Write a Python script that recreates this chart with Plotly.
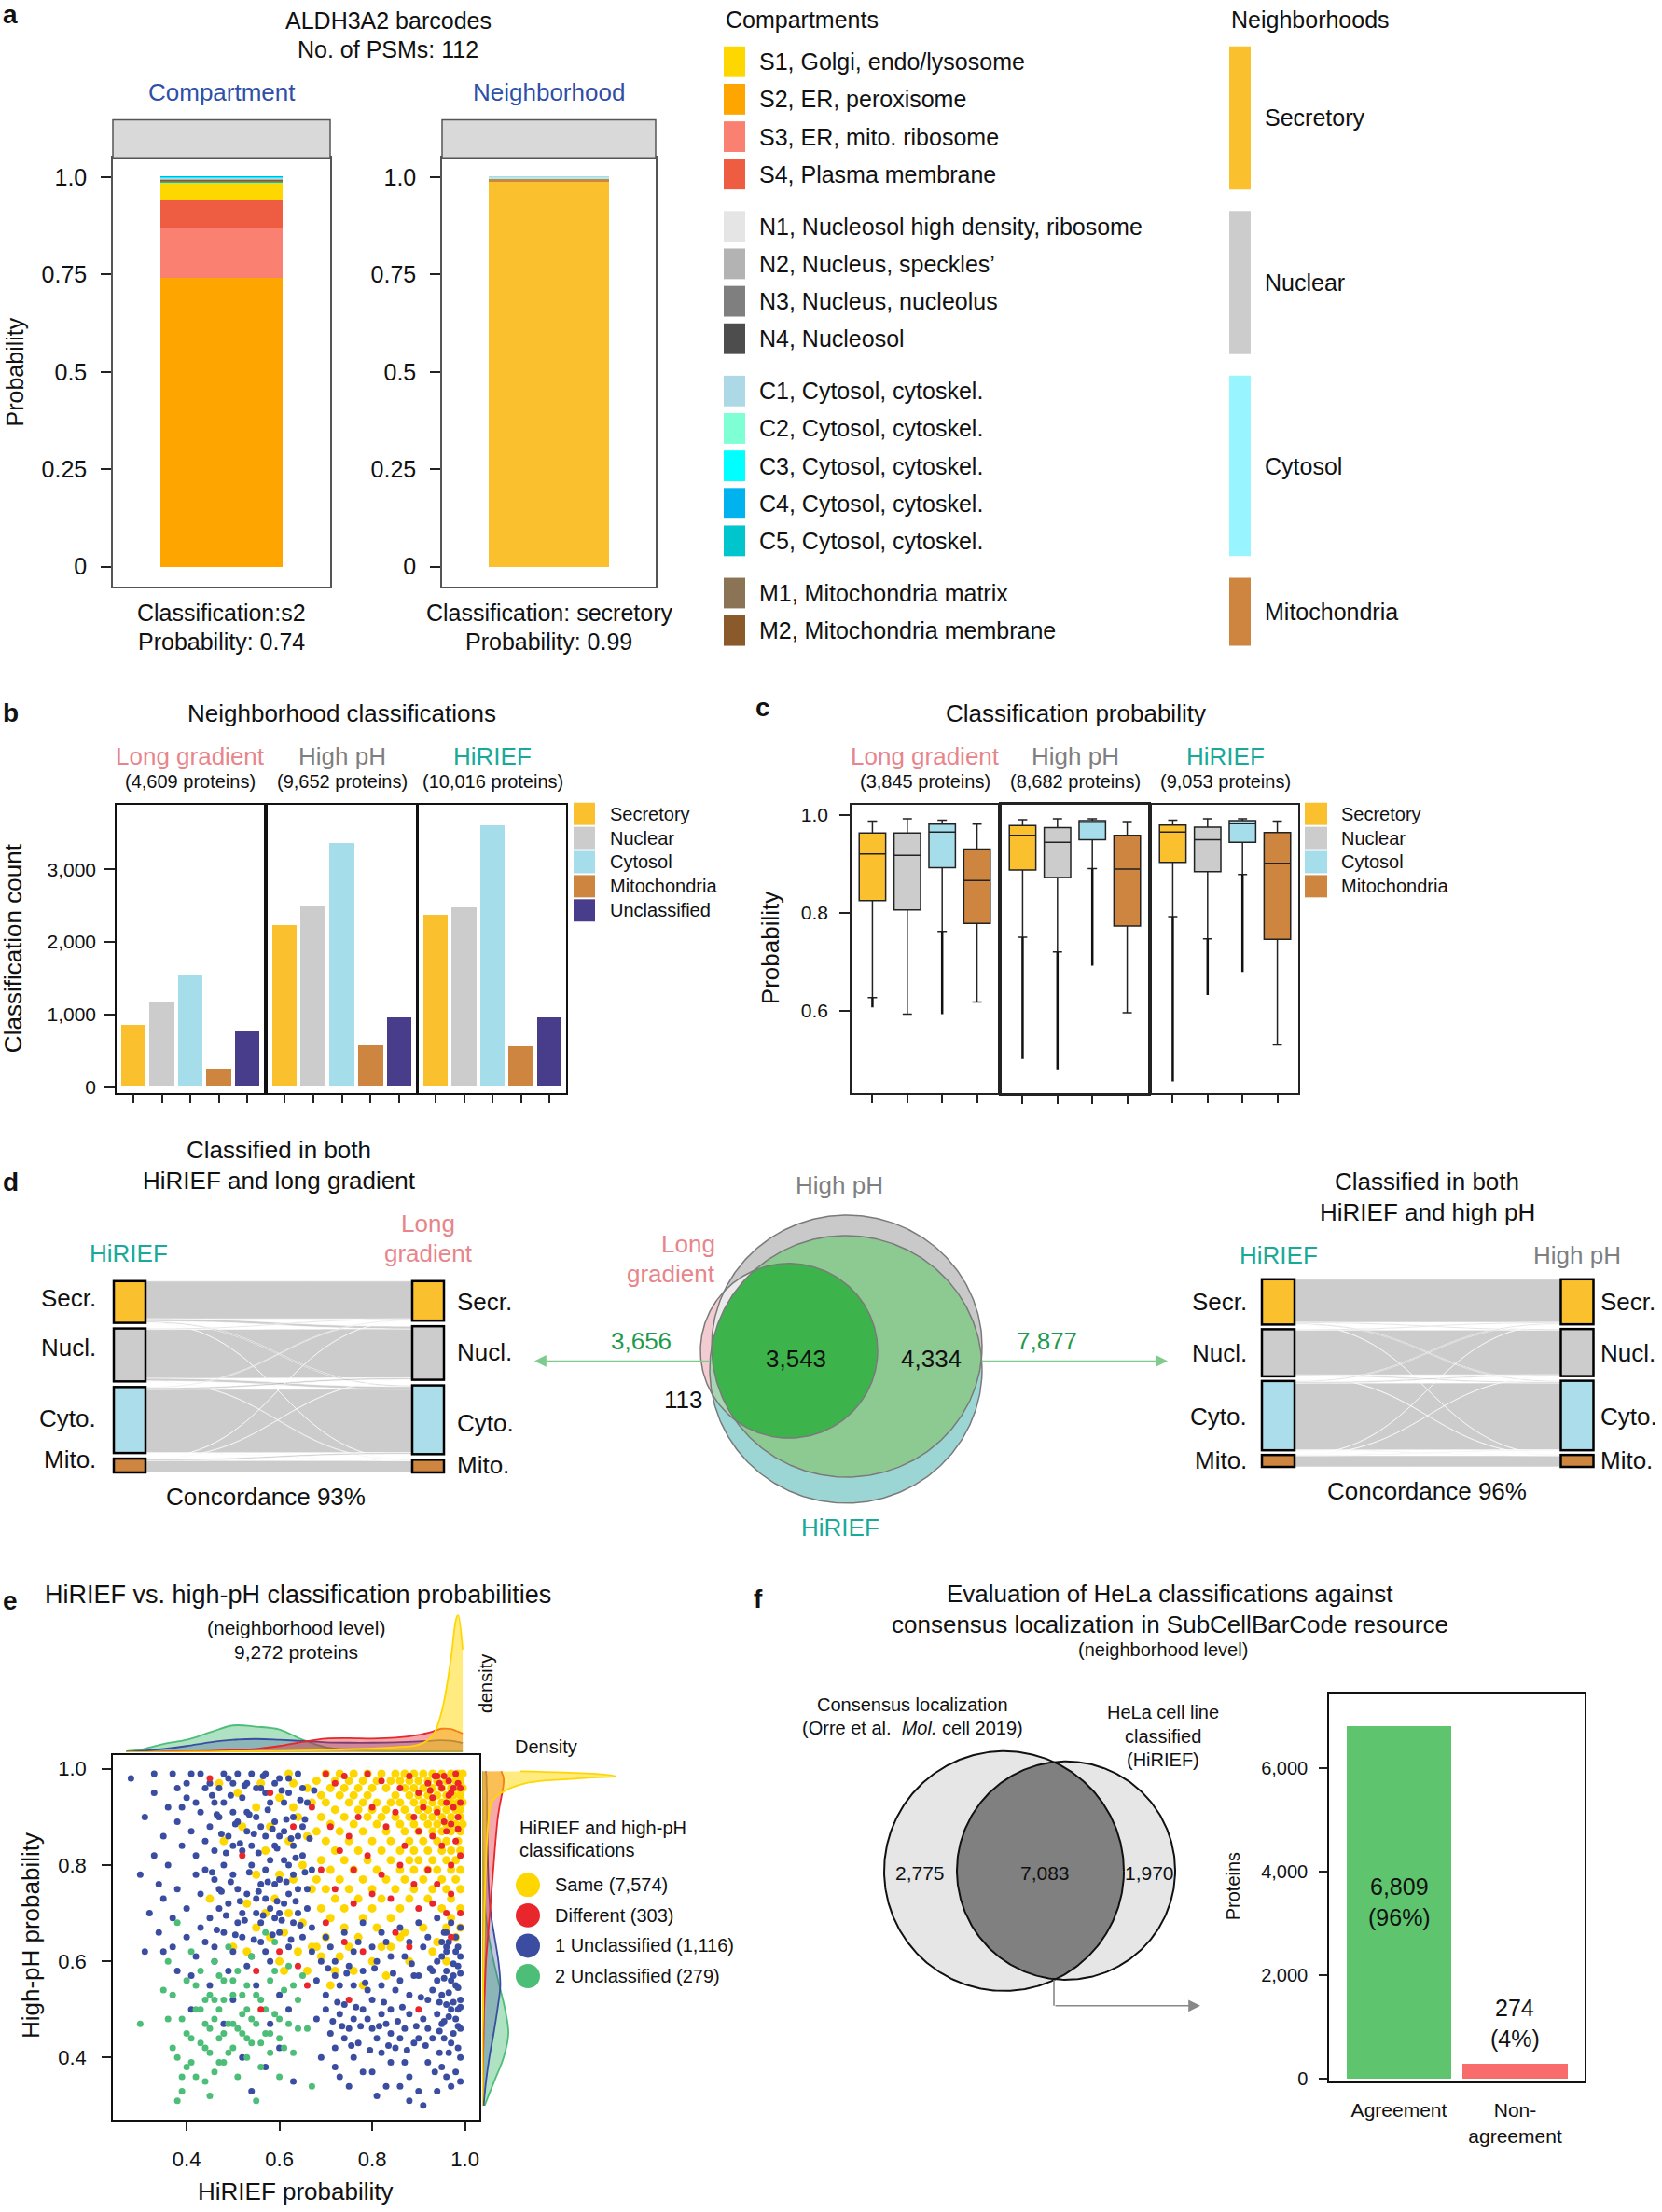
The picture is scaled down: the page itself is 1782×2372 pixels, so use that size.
import math
import plotly.graph_objects as go

W, H = 1782, 2372
FONT = "Liberation Sans, Arial, Helvetica, sans-serif"

# ====================== DATA ======================
# ---- (a) ALDH3A2 barcode ----
compartments = ["S1, Golgi, endo/lysosome", "S2, ER, peroxisome", "S3, ER, mito. ribosome", "S4, Plasma membrane",
                "N1, Nucleosol high density, ribosome", "N2, Nucleus, speckles\u2019", "N3, Nucleus, nucleolus", "N4, Nucleosol",
                "C1, Cytosol, cytoskel.", "C2, Cytosol, cytoskel.", "C3, Cytosol, cytoskel.", "C4, Cytosol, cytoskel.",
                "C5, Cytosol, cytoskel.", "M1, Mitochondria matrix", "M2, Mitochondria membrane"]
compartment_codes = ["S1", "S2", "S3", "S4", "N1", "N2", "N3", "N4", "C1", "C2", "C3", "C4", "C5", "M1", "M2"]
compartment_group = [0, 0, 0, 0, 1, 1, 1, 1, 2, 2, 2, 2, 2, 3, 3]
compartment_colors = ["#FFD700", "#FFA500", "#FA8072", "#EE5C42", "#E5E5E5", "#B3B3B3", "#7F7F7F", "#4D4D4D",
                      "#ADD8E6", "#7FFFD4", "#00FFFF", "#00B2EE", "#00C5CD", "#8B7355", "#8B5A2B"]
compartment_prob = [0.042, 0.742, 0.127, 0.074, 0.001, 0.001, 0.001, 0.001,
                    0.001, 0.001, 0.001, 0.001, 0.003, 0.002, 0.002]
neighborhoods = ["Secretory", "Nuclear", "Cytosol", "Mitochondria"]
neigh_colors_a = ["#FBC02D", "#CCCCCC", "#98F5FF", "#CD853F"]
neigh_prob = [0.988, 0.001, 0.004, 0.007]
n_psms = 112

# ---- (b) neighborhood classification counts ----
methods = ["Long gradient", "High pH", "HiRIEF"]
method_colors = ["#E8858B", "#7F7F7F", "#18A999"]
b_proteins = [4609, 9652, 10016]
b_classes = ["Secretory", "Nuclear", "Cytosol", "Mitochondria", "Unclassified"]
b_colors = ["#FBC02D", "#CCCCCC", "#A6DDEB", "#CD853F", "#483D8B"]
counts_long = [860, 1180, 1550, 260, 770]
counts_highph = [2235, 2495, 3370, 580, 970]
counts_hirief = [2385, 2490, 3617, 566, 962]
b_ticks = [0, 1000, 2000, 3000]

# ---- (c) classification probability boxplots ----
c_proteins = [3845, 8682, 9053]
c_classes = ["Secretory", "Nuclear", "Cytosol", "Mitochondria"]
c_colors = ["#FBC02D", "#CCCCCC", "#A6DDEB", "#CD853F"]
c_upper = [[0.987, 0.992, 0.989, 0.981], [0.990, 0.992, 0.992, 0.986], [0.989, 0.992, 0.992, 0.987]]
c_q3 = [[0.963, 0.963, 0.981, 0.930], [0.978, 0.974, 0.988, 0.958], [0.979, 0.975, 0.988, 0.964]]
c_median = [[0.920, 0.917, 0.965, 0.866], [0.958, 0.944, 0.984, 0.889], [0.965, 0.949, 0.982, 0.901]]
c_q1 = [[0.825, 0.806, 0.892, 0.778], [0.887, 0.872, 0.949, 0.773], [0.903, 0.884, 0.944, 0.746]]
c_lower = [[0.627, 0.593, 0.762, 0.618], [0.750, 0.720, 0.890, 0.596], [0.792, 0.747, 0.878, 0.530]]
c_outlier_min = [[0.607, None, 0.593, None], [0.501, 0.480, 0.692, None], [0.456, 0.632, 0.679, None]]
c_ticks = [0.6, 0.8, 1.0]

# ---- (d) overlaps ----
sankey_labels = ["Secr.", "Nucl.", "Cyto.", "Mito."]
sankey_colors = ["#FBC02D", "#CCCCCC", "#ABDDEA", "#CD853F"]
sankey_edges = ["#9C7428", "#6E6E6E", "#4E8791", "#7A4A1E"]
# rows: HiRIEF class, cols: long-gradient class
flows_hirief_long = [[790, 55, 25, 5], [20, 1025, 55, 8], [15, 35, 1327, 5], [3, 6, 33, 249]]
# rows: HiRIEF class, cols: high-pH class
flows_hirief_highph = [[1955, 45, 45, 11], [40, 2030, 55, 10], [45, 55, 3030, 13], [6, 5, 22, 510]]
venn_triple = 3543
venn_long_hirief = 3656
venn_hirief_highph = 7877

# ---- (e) HiRIEF vs high-pH probabilities ----
n_proteins_e = 9272
e_groups = ["Same", "Different", "1 Unclassified", "2 Unclassified"]
e_group_counts = [7574, 303, 1116, 279]
e_colors = ["#FFD700", "#E8262B", "#3A4DA0", "#4DBE78"]
same_rows = [
    (0.990, [0.62, 0.70, 0.73, 0.76, 0.79, 0.82, 0.85, 0.87, 0.89, 0.91, 0.93, 0.95, 0.97, 0.985, 0.995]),
    (0.975, [0.68, 0.72, 0.75, 0.78, 0.81, 0.84, 0.86, 0.88, 0.90, 0.92, 0.94, 0.96, 0.98, 0.99]),
    (0.960, [0.66, 0.71, 0.74, 0.77, 0.80, 0.83, 0.87, 0.89, 0.91, 0.93, 0.95, 0.97, 0.985, 0.995]),
    (0.945, [0.69, 0.73, 0.76, 0.79, 0.85, 0.88, 0.90, 0.92, 0.94, 0.96, 0.975, 0.99]),
    (0.930, [0.67, 0.70, 0.75, 0.78, 0.81, 0.84, 0.86, 0.89, 0.91, 0.93, 0.95, 0.97, 0.985, 0.995]),
    (0.915, [0.72, 0.77, 0.80, 0.83, 0.87, 0.90, 0.92, 0.94, 0.96, 0.98, 0.99]),
    (0.900, [0.69, 0.74, 0.79, 0.82, 0.85, 0.88, 0.91, 0.93, 0.95, 0.97, 0.99]),
    (0.885, [0.71, 0.76, 0.81, 0.86, 0.89, 0.92, 0.94, 0.96, 0.98, 0.995]),
    (0.870, [0.68, 0.73, 0.78, 0.83, 0.87, 0.90, 0.93, 0.95, 0.97, 0.99]),
    (0.850, [0.70, 0.75, 0.80, 0.84, 0.88, 0.91, 0.94, 0.96, 0.985]),
    (0.830, [0.72, 0.77, 0.82, 0.86, 0.89, 0.92, 0.95, 0.97, 0.99]),
    (0.810, [0.69, 0.74, 0.79, 0.84, 0.88, 0.90, 0.93, 0.96, 0.98]),
    (0.790, [0.71, 0.76, 0.81, 0.86, 0.89, 0.92, 0.94, 0.97, 0.99]),
    (0.770, [0.68, 0.73, 0.78, 0.83, 0.87, 0.91, 0.95, 0.98]),
    (0.750, [0.70, 0.75, 0.80, 0.85, 0.89, 0.93, 0.96, 0.99]),
    (0.730, [0.72, 0.77, 0.82, 0.88, 0.92, 0.97]),
    (0.710, [0.69, 0.74, 0.80, 0.86, 0.95, 0.99]),
    (0.690, [0.71, 0.78, 0.84, 0.97]),
    (0.670, [0.74, 0.81, 0.96, 0.99]),
    (0.650, [0.70, 0.77, 0.86, 0.98]),
    (0.630, [0.68, 0.75, 0.82]),
]
same_extra = [(0.47, 0.97), (0.51, 0.95), (0.55, 0.92), (0.58, 0.88), (0.60, 0.94), (0.63, 0.97), (0.64, 0.90),
              (0.57, 0.83), (0.62, 0.85), (0.65, 0.80), (0.60, 0.78), (0.53, 0.72), (0.55, 0.67), (0.58, 0.65),
              (0.62, 0.70), (0.64, 0.62), (0.50, 0.63), (0.45, 0.73), (0.60, 0.60), (0.66, 0.58), (0.72, 0.58),
              (0.78, 0.55), (0.83, 0.57), (0.88, 0.60), (0.93, 0.62), (0.55, 0.78), (0.48, 0.85), (0.67, 0.75),
              (0.63, 0.92), (0.66, 0.86), (0.52, 0.88), (0.56, 0.97), (0.59, 0.73), (0.61, 0.66), (0.63, 0.77),
              (0.65, 0.68), (0.67, 0.63), (0.69, 0.61), (0.71, 0.55), (0.73, 0.61), (0.76, 0.58), (0.80, 0.60),
              (0.84, 0.63), (0.87, 0.66), (0.91, 0.67), (0.94, 0.64), (0.96, 0.60), (0.53, 0.62), (0.57, 0.70),
              (0.61, 0.58)]
diff_pts = [(0.70, 0.99), (0.72, 0.97), (0.74, 0.985), (0.79, 0.99), (0.82, 0.975), (0.86, 0.96), (0.88, 0.985),
            (0.90, 0.95), (0.92, 0.97), (0.93, 0.94), (0.94, 0.985), (0.95, 0.96), (0.96, 0.93), (0.965, 0.975),
            (0.97, 0.95), (0.975, 0.92), (0.98, 0.99), (0.985, 0.90), (0.99, 0.96), (0.955, 0.89), (0.94, 0.91),
            (0.91, 0.92), (0.89, 0.90), (0.96, 0.87), (0.98, 0.85), (0.99, 0.82), (0.97, 0.80), (0.95, 0.84),
            (0.93, 0.86), (0.90, 0.87), (0.87, 0.84), (0.85, 0.91), (0.83, 0.88), (0.80, 0.92), (0.77, 0.90),
            (0.75, 0.86), (0.73, 0.83), (0.71, 0.88), (0.76, 0.79), (0.79, 0.82), (0.82, 0.78), (0.86, 0.80),
            (0.89, 0.76), (0.92, 0.79), (0.94, 0.76), (0.97, 0.74), (0.99, 0.70), (0.96, 0.70), (0.93, 0.72),
            (0.90, 0.71), (0.84, 0.73), (0.80, 0.74), (0.76, 0.72), (0.72, 0.75), (0.69, 0.79), (0.70, 0.68),
            (0.74, 0.64), (0.78, 0.62), (0.85, 0.66), (0.88, 0.63), (0.97, 0.65), (0.64, 0.59), (0.60, 0.62),
            (0.55, 0.58), (0.67, 0.92), (0.63, 0.88), (0.58, 0.95), (0.52, 0.82), (0.56, 0.50), (0.66, 0.55),
            (0.75, 0.52), (0.90, 0.50), (0.45, 0.98), (0.925, 0.955), (0.945, 0.97), (0.965, 0.945),
            (0.985, 0.97), (0.955, 0.985), (0.975, 0.96), (0.935, 0.985), (0.99, 0.93), (0.97, 0.885), (0.985, 0.875)]
one_uncl_pts = [(0.28, 0.98), (0.33, 0.99), (0.33, 0.95), (0.37, 0.99), (0.36, 0.92), (0.40, 0.97), (0.40, 0.94),
                (0.43, 0.99), (0.44, 0.96), (0.46, 0.93), (0.48, 0.99), (0.50, 0.97), (0.52, 0.94), (0.54, 0.99),
                (0.56, 0.96), (0.58, 0.93), (0.60, 0.98), (0.62, 0.95), (0.64, 0.99), (0.66, 0.93), (0.35, 0.86),
                (0.38, 0.89), (0.41, 0.87), (0.43, 0.91), (0.45, 0.88), (0.47, 0.90), (0.49, 0.86), (0.51, 0.89),
                (0.53, 0.87), (0.55, 0.90), (0.57, 0.86), (0.59, 0.89), (0.61, 0.87), (0.63, 0.84), (0.65, 0.88),
                (0.30, 0.78), (0.33, 0.82), (0.36, 0.80), (0.39, 0.84), (0.42, 0.82), (0.44, 0.79), (0.46, 0.83),
                (0.48, 0.80), (0.50, 0.78), (0.52, 0.83), (0.54, 0.80), (0.56, 0.76), (0.58, 0.81), (0.60, 0.77),
                (0.62, 0.80), (0.64, 0.75), (0.67, 0.79), (0.32, 0.70), (0.35, 0.73), (0.38, 0.75), (0.40, 0.71),
                (0.43, 0.74), (0.45, 0.69), (0.47, 0.75), (0.49, 0.72), (0.51, 0.68), (0.53, 0.74), (0.55, 0.70),
                (0.57, 0.73), (0.59, 0.69), (0.61, 0.72), (0.63, 0.68), (0.66, 0.71), (0.31, 0.62), (0.34, 0.66),
                (0.37, 0.63), (0.40, 0.65), (0.42, 0.61), (0.44, 0.64), (0.46, 0.60), (0.48, 0.66), (0.50, 0.62),
                (0.52, 0.65), (0.54, 0.61), (0.56, 0.64), (0.58, 0.60), (0.60, 0.66), (0.62, 0.63), (0.65, 0.65),
                (0.39, 0.92), (0.47, 0.96), (0.53, 0.97), (0.57, 0.99), (0.42, 0.78), (0.50, 0.84), (0.59, 0.84),
                (0.45, 0.55), (0.50, 0.52), (0.55, 0.55), (0.60, 0.53), (0.48, 0.47), (0.58, 0.47), (0.62, 0.50),
                (0.41, 0.50), (0.52, 0.40), (0.57, 0.38), (0.60, 0.42), (0.63, 0.35), (0.54, 0.33),
                (0.31, 0.90), (0.34, 0.76), (0.37, 0.69), (0.38, 0.96), (0.41, 0.99), (0.42, 0.93), (0.44, 0.85),
                (0.45, 0.97), (0.46, 0.77), (0.47, 0.71), (0.48, 0.93), (0.49, 0.98), (0.50, 0.91), (0.51, 0.75),
                (0.51, 0.99), (0.52, 0.70), (0.53, 0.91), (0.54, 0.84), (0.55, 0.96), (0.55, 0.73), (0.56, 0.88),
                (0.56, 0.68), (0.57, 0.95), (0.57, 0.79), (0.58, 0.71), (0.59, 0.97), (0.59, 0.76), (0.60, 0.86),
                (0.60, 0.70), (0.61, 0.93), (0.61, 0.81), (0.62, 0.98), (0.62, 0.74), (0.63, 0.90), (0.63, 0.78),
                (0.64, 0.86), (0.64, 0.70), (0.65, 0.96), (0.65, 0.82), (0.66, 0.75), (0.67, 0.67), (0.43, 0.67),
                (0.41, 0.57), (0.46, 0.63), (0.53, 0.59), (0.57, 0.62), (0.49, 0.58), (0.38, 0.58), (0.35, 0.62),
                (0.455, 0.945), (0.465, 0.905), (0.475, 0.865), (0.485, 0.825), (0.495, 0.945), (0.505, 0.885),
                (0.515, 0.845), (0.525, 0.965), (0.535, 0.905), (0.545, 0.865), (0.555, 0.825), (0.565, 0.985),
                (0.575, 0.915), (0.585, 0.875), (0.595, 0.835), (0.605, 0.955), (0.615, 0.895), (0.625, 0.855),
                (0.635, 0.815), (0.645, 0.935), (0.655, 0.895), (0.665, 0.855), (0.675, 0.955), (0.455, 0.785),
                (0.475, 0.745), (0.495, 0.765), (0.515, 0.725), (0.535, 0.785), (0.555, 0.745), (0.575, 0.765),
                (0.595, 0.725), (0.615, 0.765), (0.635, 0.725), (0.655, 0.785), (0.465, 0.665), (0.485, 0.695),
                (0.505, 0.655), (0.525, 0.685), (0.545, 0.645), (0.565, 0.695), (0.585, 0.655), (0.605, 0.685),
                (0.625, 0.645), (0.645, 0.675),
                (0.67, 0.62), (0.70, 0.65), (0.72, 0.60), (0.74, 0.66), (0.76, 0.62), (0.78, 0.68), (0.80, 0.63),
                (0.82, 0.66), (0.84, 0.61), (0.86, 0.67), (0.88, 0.64), (0.90, 0.68), (0.92, 0.65), (0.94, 0.69),
                (0.96, 0.66), (0.98, 0.62), (0.99, 0.67), (0.68, 0.56), (0.70, 0.53), (0.72, 0.57), (0.74, 0.51),
                (0.76, 0.55), (0.78, 0.58), (0.80, 0.52), (0.82, 0.55), (0.84, 0.50), (0.86, 0.56), (0.88, 0.53),
                (0.90, 0.57), (0.92, 0.52), (0.94, 0.56), (0.95, 0.53), (0.96, 0.58), (0.97, 0.50), (0.98, 0.55),
                (0.99, 0.52), (0.68, 0.48), (0.71, 0.45), (0.73, 0.49), (0.75, 0.46), (0.77, 0.43), (0.79, 0.48),
                (0.81, 0.44), (0.83, 0.47), (0.85, 0.42), (0.87, 0.46), (0.89, 0.43), (0.91, 0.48), (0.93, 0.44),
                (0.95, 0.47), (0.97, 0.43), (0.99, 0.46), (0.69, 0.40), (0.72, 0.38), (0.76, 0.40), (0.80, 0.37),
                (0.84, 0.39), (0.88, 0.36), (0.92, 0.39), (0.96, 0.36), (0.99, 0.40), (0.75, 0.34), (0.83, 0.34),
                (0.90, 0.33), (0.97, 0.34), (0.91, 0.30), (0.86, 0.34), (0.94, 0.60), (0.96, 0.62), (0.985, 0.59),
                (0.93, 0.58), (0.975, 0.57),
                (0.69, 0.60), (0.71, 0.63), (0.73, 0.55), (0.75, 0.59), (0.77, 0.64), (0.79, 0.54), (0.81, 0.60),
                (0.83, 0.64), (0.85, 0.54), (0.87, 0.61), (0.89, 0.57), (0.91, 0.63), (0.93, 0.54), (0.95, 0.61),
                (0.97, 0.56), (0.98, 0.48), (0.96, 0.51), (0.94, 0.49), (0.92, 0.46), (0.90, 0.44), (0.88, 0.49),
                (0.86, 0.44), (0.84, 0.45), (0.82, 0.49), (0.80, 0.46), (0.78, 0.50), (0.76, 0.48), (0.74, 0.44),
                (0.72, 0.42), (0.70, 0.50), (0.985, 0.50), (0.975, 0.45), (0.965, 0.41), (0.955, 0.44), (0.945, 0.41),
                (0.935, 0.37), (0.985, 0.42), (0.98, 0.37), (0.95, 0.38), (0.87, 0.39), (0.82, 0.41), (0.78, 0.37),
                (0.73, 0.36), (0.81, 0.32), (0.88, 0.31), (0.94, 0.33), (0.99, 0.35), (0.965, 0.64), (0.985, 0.63),
                (0.955, 0.66),
                (0.705, 0.585), (0.725, 0.515), (0.745, 0.575), (0.765, 0.505), (0.785, 0.555), (0.805, 0.585),
                (0.825, 0.515), (0.845, 0.575), (0.865, 0.505), (0.885, 0.595), (0.905, 0.525), (0.925, 0.585),
                (0.945, 0.515), (0.955, 0.565), (0.965, 0.535), (0.975, 0.595), (0.985, 0.545), (0.99, 0.575),
                (0.965, 0.485), (0.975, 0.515), (0.955, 0.475), (0.985, 0.465), (0.99, 0.505), (0.945, 0.455),
                (0.915, 0.425), (0.895, 0.465), (0.875, 0.415), (0.855, 0.475), (0.835, 0.425), (0.815, 0.465),
                (0.795, 0.415), (0.775, 0.465), (0.755, 0.425), (0.735, 0.465), (0.715, 0.475), (0.96, 0.63),
                (0.98, 0.65), (0.97, 0.68), (0.99, 0.61), (0.95, 0.64)]
two_uncl_pts = [(0.30, 0.47), (0.35, 0.54), (0.36, 0.48), (0.37, 0.42), (0.38, 0.40), (0.38, 0.68), (0.39, 0.33),
                (0.39, 0.36), (0.40, 0.45), (0.40, 0.56), (0.41, 0.39), (0.41, 0.62), (0.42, 0.50), (0.43, 0.43),
                (0.43, 0.58), (0.44, 0.35), (0.44, 0.47), (0.45, 0.53), (0.45, 0.41), (0.46, 0.60), (0.46, 0.37),
                (0.47, 0.44), (0.47, 0.50), (0.48, 0.56), (0.48, 0.39), (0.49, 0.47), (0.49, 0.63), (0.50, 0.42),
                (0.50, 0.53), (0.51, 0.36), (0.51, 0.58), (0.52, 0.45), (0.52, 0.49), (0.53, 0.40), (0.53, 0.55),
                (0.54, 0.43), (0.54, 0.61), (0.55, 0.47), (0.55, 0.31), (0.56, 0.52), (0.56, 0.38), (0.57, 0.45),
                (0.57, 0.66), (0.58, 0.41), (0.58, 0.56), (0.59, 0.49), (0.59, 0.64), (0.60, 0.44), (0.60, 0.36),
                (0.61, 0.54), (0.62, 0.47), (0.62, 0.59), (0.63, 0.41), (0.64, 0.52), (0.65, 0.57), (0.66, 0.46),
                (0.67, 0.34), (0.42, 0.55), (0.46, 0.48), (0.50, 0.47), (0.53, 0.50), (0.48, 0.52), (0.44, 0.52),
                (0.36, 0.60), (0.37, 0.53), (0.39, 0.48), (0.40, 0.38), (0.41, 0.44), (0.42, 0.36), (0.43, 0.50),
                (0.44, 0.42), (0.45, 0.46), (0.46, 0.52), (0.47, 0.39), (0.47, 0.57), (0.48, 0.45), (0.49, 0.41),
                (0.50, 0.56), (0.51, 0.46), (0.52, 0.53), (0.53, 0.44), (0.54, 0.48), (0.55, 0.53), (0.56, 0.43),
                (0.57, 0.50), (0.58, 0.45), (0.59, 0.58), (0.60, 0.48), (0.61, 0.42), (0.63, 0.55), (0.64, 0.46),
                (0.38, 0.31), (0.45, 0.32)]
# marginal densities (arbitrary density units)
dens_x_grid = [0.27, 0.30, 0.35, 0.40, 0.45, 0.50, 0.55, 0.60, 0.65, 0.70, 0.75, 0.80, 0.85, 0.90, 0.93, 0.95, 0.97, 0.98, 0.985, 0.995]
dens_x_same = [0, 0, 0, 1, 1, 2, 2, 3, 4, 5, 7, 9, 12, 18, 40, 100, 230, 320, 335, 250]
dens_x_diff = [0, 0, 1, 2, 3, 5, 8, 15, 25, 33, 34, 33, 35, 42, 50, 57, 56, 52, 50, 45]
dens_x_one = [1, 3, 8, 15, 24, 30, 32, 30, 27, 24, 23, 23, 24, 26, 28, 29, 28, 26, 25, 22]
dens_x_two = [2, 6, 20, 30, 48, 65, 62, 55, 30, 12, 5, 3, 2, 2, 2, 2, 2, 2, 2, 2]
dens_y_grid = [0.30, 0.35, 0.40, 0.45, 0.50, 0.55, 0.60, 0.65, 0.70, 0.75, 0.80, 0.85, 0.90, 0.93, 0.95, 0.97, 0.98, 0.985, 0.99, 0.995]
dens_y_same = [0, 1, 1, 1, 2, 2, 3, 4, 5, 6, 8, 10, 14, 20, 40, 90, 200, 280, 230, 80]
dens_y_diff = [0, 1, 2, 3, 4, 6, 8, 12, 16, 20, 24, 28, 33, 38, 42, 45, 45, 44, 42, 40]
dens_y_one = [3, 8, 15, 24, 32, 38, 34, 26, 18, 14, 12, 11, 10, 10, 10, 9, 9, 9, 8, 8]
dens_y_two = [5, 25, 45, 55, 48, 36, 24, 14, 7, 3, 2, 1, 1, 1, 0, 0, 0, 0, 0, 0]

# ---- (f) SubCellBarCode evaluation ----
venn_f_counts = [2775, 7083, 1970]
f_categories = ["Agreement", "Non-<br>agreement"]
f_values = [6809, 274]
f_colors = ["#5EC46E", "#F86C6B"]
f_ticks = [0, 2000, 4000, 6000]

# ====================== HELPERS ======================
def X(p): return p / W
def Y(p): return 1 - p / H

fig = go.Figure()
axes = {}
annotations = []
shapes = []
BASE = dict(showgrid=False, zeroline=False, showline=False, ticks="", showticklabels=False, fixedrange=True)


def set_axes(n, xpx, ypx, xr, yr, xkw=None, ykw=None):
    s = "" if n == 1 else str(n)
    xa = dict(BASE, domain=[X(xpx[0]), X(xpx[1])], range=xr, anchor="y" + s)
    ya = dict(BASE, domain=[Y(ypx[1]), Y(ypx[0])], range=yr, anchor="x" + s)
    xa.update(xkw or {})
    ya.update(ykw or {})
    axes["xaxis" + s] = xa
    axes["yaxis" + s] = ya
    return "x" + s, "y" + s


def frame(c="#222", w=1.5):
    return dict(showline=True, mirror=True, linecolor=c, linewidth=w)


def tickdef(vals, texts, size, length=11, standoff=0):
    return dict(ticks="outside", ticklen=length, tickwidth=1.5, tickcolor="#222", showticklabels=True,
                tickvals=vals, ticktext=texts, ticklabelstandoff=standoff,
                tickfont=dict(size=size, family=FONT, color="#111"))


def txt(x, y, s, size=26, color="#111", xa="center", ya="middle", angle=0, bold=False):
    if bold:
        s = "<b>" + s + "</b>"
    annotations.append(dict(x=X(x), y=Y(y), xref="paper", yref="paper", text=s, showarrow=False,
                            xanchor=xa, yanchor=ya, textangle=angle,
                            font=dict(size=size, color=color, family=FONT)))


def rect(x0, x1, y0, y1, fill, line_color=None, lw=0):
    shapes.append(dict(type="rect", xref="paper", yref="paper", x0=X(x0), x1=X(x1), y0=Y(y1), y1=Y(y0),
                       fillcolor=fill, line=dict(color=line_color or fill, width=lw), layer="above"))


def fmt(n):
    return f"{n:,}"


def region(ells, p, n=360):
    xs, ys = [], []
    for k in range(n + 1):
        th = 2 * math.pi * k / n
        dx, dy = math.cos(th), math.sin(th)
        tmin = 1e9
        for (cx, cy, a, b) in ells:
            u, v = (p[0] - cx) / a, (p[1] - cy) / b
            du, dv = dx / a, dy / b
            A = du * du + dv * dv
            B = 2 * (u * du + v * dv)
            C = u * u + v * v - 1
            t = (-B + math.sqrt(B * B - 4 * A * C)) / (2 * A)
            tmin = min(tmin, t)
        xs.append(p[0] + tmin * dx)
        ys.append(p[1] + tmin * dy)
    return xs, ys


def poly(xs, ys, xa, ya, fill=None, line=None, lw=1.5):
    fig.add_trace(go.Scatter(x=xs, y=ys, xaxis=xa, yaxis=ya, mode="lines",
                             fill="toself" if fill else None, fillcolor=fill,
                             line=dict(color=line or "rgba(0,0,0,0)", width=lw if line else 0),
                             hoverinfo="skip", showlegend=False))


BLUE = "#2F4FA8"
GREEN_TXT = "#1F9A4C"

# ====================== PANEL a ======================
txt(1, 15, "a", 28, xa="left", bold=True)
txt(416, 21, "ALDH3A2 barcodes", 25)
txt(416, 52, f"No. of PSMs: {n_psms}", 25)
a_ticks = [0, 0.25, 0.5, 0.75, 1.0]
a_ticktext = ["0", "0.25", "0.5", "0.75", "1.0"]
for k, (xpx, title, probs, cols, names) in enumerate([
        ((121, 354), "Compartment", compartment_prob, compartment_colors, [c.lower() for c in compartment_codes]),
        ((474, 703), "Neighborhood", neigh_prob, neigh_colors_a, [n.lower() for n in neighborhoods])]):
    yk = frame("#555")
    yk.update(tickdef(a_ticks, a_ticktext, 25, 11, 10))
    xa, ya = set_axes(1 + k, xpx, (169, 630), [-0.5, 0.5], [-0.05, 1.049], frame("#555"), yk)
    order = sorted(range(len(probs)), key=lambda i: -probs[i])
    for i in order:
        fig.add_trace(go.Bar(x=[0], y=[probs[i]], width=0.56, xaxis=xa, yaxis=ya,
                             marker=dict(color=cols[i], line=dict(width=0)), hoverinfo="skip", showlegend=False))
    rect(xpx[0], xpx[1], 128, 169, "#D9D9D9", "#555", 1.5)
    cx = (xpx[0] + xpx[1]) / 2
    txt(cx, 98, title, 26, BLUE)
    best = order[0]
    sep = ":" if k == 0 else ": "
    txt(cx, 658, f"Classification{sep}{names[best]}", 25)
    txt(cx, 690, f"Probability: {probs[best]:.2f}", 25)
txt(16, 400, "Probability", 25, angle=-90)

# legend a
txt(776, 20, "Compartments", 25, xa="left")
txt(1318, 20, "Neighborhoods", 25, xa="left")
row_y = [65.5 + 40.3 * i + 16 * compartment_group[i] for i in range(len(compartments))]
for i, name in enumerate(compartments):
    rect(776, 799, row_y[i] - 16.5, row_y[i] + 16.5, compartment_colors[i])
    txt(812, row_y[i], name, 25, xa="left")
for g, nb in enumerate(neighborhoods):
    ys = [row_y[i] for i in range(len(compartments)) if compartment_group[i] == g]
    rect(1318, 1341, ys[0] - 16.5, ys[-1] + 16.5, neigh_colors_a[g])
    txt(1354, (ys[0] + ys[-1]) / 2, nb, 25, xa="left")

# ====================== PANEL b ======================
txt(1, 766, "b", 28, xa="left", bold=True)
txt(366, 767, "Neighborhood classifications", 26)
b_counts = [counts_long, counts_highph, counts_hirief]
b_facets = [(125, 283), (287, 446), (449, 607)]
for k in range(3):
    xk = frame("#111")
    xk.update(ticks="outside", ticklen=10, tickwidth=1.5, tickcolor="#222", tickvals=list(range(5)))
    yk = frame("#111")
    if k == 0:
        yk.update(tickdef(b_ticks, [fmt(v) for v in b_ticks], 21, 11, 5))
    xa, ya = set_axes(3 + k, b_facets[k], (865, 1175), [-0.59, 4.59], [-77, 3897], xk, yk)
    fig.add_trace(go.Bar(x=list(range(5)), y=b_counts[k], width=0.9, xaxis=xa, yaxis=ya,
                         marker=dict(color=b_colors, line=dict(color="white", width=1)),
                         hoverinfo="skip", showlegend=False))
    cx = (b_facets[k][0] + b_facets[k][1]) / 2
    txt(cx, 813, methods[k], 26, method_colors[k])
    txt(cx, 840, f"({fmt(b_proteins[k])} proteins)", 20)
txt(14, 1020, "Classification count", 26, angle=-90)
for i, c in enumerate(b_classes):
    yc = 875 + 26 * i
    rect(615, 638, yc - 12, yc + 12, b_colors[i])
    txt(652, yc, c, 20, xa="left")

# ====================== PANEL c ======================
txt(808, 760, "c", 28, xa="left", bold=True)
txt(1153, 767, "Classification probability", 26)
c_facets = [(913, 1070), (1074, 1231), (1235, 1392)]
for k in range(3):
    fw = 2.5 if k == 1 else 1.5
    xk = frame("#222", fw)
    xk.update(ticks="outside", ticklen=10, tickwidth=1.5, tickcolor="#222", tickvals=list(range(4)))
    yk = frame("#222", fw)
    if k == 0:
        yk.update(tickdef(c_ticks, [f"{v:.1f}" for v in c_ticks], 21, 11, 8))
    xa, ya = set_axes(6 + k, c_facets[k], (865, 1175), [-0.6, 3.6], [0.433, 1.021], xk, yk)
    ox, oy = [], []
    for i in range(4):
        if c_outlier_min[k][i] is not None:
            ox += [i, i, None]
            oy += [c_lower[k][i], c_outlier_min[k][i], None]
    if ox:
        fig.add_trace(go.Scatter(x=ox, y=oy, mode="lines", line=dict(color="#111", width=2.5),
                                 xaxis=xa, yaxis=ya, hoverinfo="skip", showlegend=False))
    for i in range(4):
        fig.add_trace(go.Box(x=[i], q1=[c_q1[k][i]], median=[c_median[k][i]], q3=[c_q3[k][i]],
                             lowerfence=[c_lower[k][i]], upperfence=[c_upper[k][i]],
                             width=0.76, whiskerwidth=0.35, fillcolor=c_colors[i],
                             line=dict(color="#222", width=1.5), boxpoints=False,
                             xaxis=xa, yaxis=ya, hoverinfo="skip", showlegend=False))
    cx = (c_facets[k][0] + c_facets[k][1]) / 2
    txt(cx, 813, methods[k], 26, method_colors[k])
    txt(cx, 840, f"({fmt(c_proteins[k])} proteins)", 20)
txt(826, 1020, "Probability", 26, angle=-90)
for i, c in enumerate(c_classes):
    yc = 875 + 26 * i
    rect(1399, 1423, yc - 12, yc + 12, c_colors[i])
    txt(1436, yc, c, 20, xa="left")

# ====================== PANEL d ======================
txt(1, 1271, "d", 28, xa="left", bold=True)


def add_sankey(flows, xpx, ypx, left_cx, right_cx, pad, thick):
    n = len(flows)
    left = [sum(r) for r in flows]
    right = [sum(flows[i][j] for i in range(n)) for j in range(n)]
    total = sum(left)
    hs = ypx[1] - ypx[0]
    ws = xpx[1] - xpx[0]
    ky = (hs - (n - 1) * pad) / total

    def centers(vals):
        out, c = [], 0.0
        for v in vals:
            h = v * ky
            out.append((c + h / 2) / hs)
            c += h + pad
        return out
    src, tgt, val, col = [], [], [], []
    pairs = [(i, i) for i in range(n)] + [(i, j) for i in range(n) for j in range(n) if i != j]
    for i, j in pairs:
        src.append(i)
        tgt.append(n + j)
        val.append(flows[i][j])
        col.append("rgba(204,204,204,1)" if i == j else "rgba(130,130,130,0.4)")
    fig.add_trace(go.Sankey(
        domain=dict(x=[X(xpx[0]), X(xpx[1])], y=[Y(ypx[1]), Y(ypx[0])]),
        arrangement="fixed",
        node=dict(label=[""] * (2 * n), pad=pad, thickness=thick,
                  x=[(left_cx - xpx[0]) / ws] * n + [(right_cx - xpx[0]) / ws] * n,
                  y=centers(left) + centers(right),
                  color=sankey_colors * 2, line=dict(color=sankey_edges * 2, width=2.5),
                  hoverinfo="none"),
        link=dict(source=src, target=tgt, value=val, color=col,
                  line=dict(color="white", width=0.6), hoverinfo="none"),
        textfont=dict(size=1, color="rgba(0,0,0,0)")))
    diag = sum(flows[i][i] for i in range(n))
    return round(100 * diag / total)


conc1 = add_sankey(flows_hirief_long, (100, 500), (1378, 1584), 139, 459, 6, 34)
txt(299, 1237, "Classified in both", 26)
txt(299, 1270, "HiRIEF and long gradient", 26)
txt(138, 1348, "HiRIEF", 26, method_colors[2])
txt(459, 1316, "Long", 26, method_colors[0])
txt(459, 1348, "gradient", 26, method_colors[0])
for lab, yl, yr_ in zip(sankey_labels, [1396, 1449, 1526, 1570], [1400, 1455, 1531, 1576]):
    txt(105, yl, lab, 26, xa="right")
    txt(488, yr_, lab, 26, xa="left")
txt(285, 1610, f"Concordance {conc1}%", 26)

conc2 = add_sankey(flows_hirief_highph, (1330, 1730), (1376, 1578), 1370.5, 1691, 5, 35)
txt(1530, 1271, "Classified in both", 26)
txt(1530, 1304, "HiRIEF and high pH", 26)
txt(1371, 1350, "HiRIEF", 26, method_colors[2])
txt(1691, 1350, "High pH", 26, method_colors[1])
for lab, yl in zip(sankey_labels, [1400, 1456, 1524, 1571]):
    txt(1339, yl, lab, 26, xa="right")
    txt(1714, yl, lab, 26, xa="left")
txt(1530, 1604, f"Concordance {conc2}%", 26)

# Venn (euler) diagram, local coordinates: 1 unit = 1 px, origin at (908, 1460)
VD_O = (908, 1460)
vd_highph = (0, 12, 145, 141)
vd_hirief = (-1, -13, 146, 144)
vd_long = (-62, 7, 95, 94)
vpx_x, vpx_y = (690, 1130), (1280, 1650)
xa9, ya9 = set_axes(9, vpx_x, vpx_y, [vpx_x[0] - VD_O[0], vpx_x[1] - VD_O[0]],
                    [VD_O[1] - vpx_y[1], VD_O[1] - vpx_y[0]])
poly(*region([vd_long], vd_long[:2]), xa9, ya9, fill="#F3CCD1")
poly(*region([vd_hirief], vd_hirief[:2]), xa9, ya9, fill="#9CD6D4")
poly(*region([vd_highph], vd_highph[:2]), xa9, ya9, fill="#C9C9C9")
poly(*region([vd_long, vd_hirief], vd_long[:2]), xa9, ya9, fill="#A6D6B2")
poly(*region([vd_long, vd_highph], vd_long[:2]), xa9, ya9, fill="#EAEAEA")
poly(*region([vd_hirief, vd_highph], (0, 0)), xa9, ya9, fill="#8DCA92")
poly(*region([vd_long, vd_hirief, vd_highph], vd_long[:2]), xa9, ya9, fill="#3DB44B")
for e in (vd_long, vd_hirief, vd_highph):
    poly(*region([e], e[:2]), xa9, ya9, line="#7A7A7A", lw=1.5)
txt(900, 1275, "High pH", 26, method_colors[1])
txt(769, 1338, "Long", 26, method_colors[0], xa="right")
txt(769, 1370, "gradient", 26, method_colors[0], xa="right")
txt(901, 1643, "HiRIEF", 26, method_colors[2])
txt(853, 1462, fmt(venn_triple), 26)
txt(998, 1462, fmt(venn_hirief_highph - venn_triple), 26)
txt(732, 1506, fmt(venn_long_hirief - venn_triple), 26)
txt(687, 1442, fmt(venn_long_hirief), 26, GREEN_TXT)
txt(1122, 1442, fmt(venn_hirief_highph), 26, GREEN_TXT)
for head, tail in [(573, 762), (1252, 1051)]:
    annotations.append(dict(x=X(head), y=Y(1464), xref="paper", yref="paper", ax=tail - head, ay=0,
                            showarrow=True, arrowhead=2, arrowsize=1.6, arrowwidth=1.6,
                            arrowcolor="#7FCB8C", text=""))

# ====================== PANEL e ======================
txt(1, 1722, "e", 28, xa="left", bold=True)
txt(46, 1716, "HiRIEF vs. high-pH classification probabilities", 27, xa="left")
txt(317, 1751, "(neighborhood level)", 21)
txt(317, 1777, f"{fmt(n_proteins_e)} proteins", 21)
e_xr, e_yr = [0.241, 1.031], [0.270, 1.029]
e_ticks = [0.4, 0.6, 0.8, 1.0]
xk = frame("#111")
xk.update(tickdef(e_ticks, [f"{v:.1f}" for v in e_ticks], 22, 10, 12))
yk = frame("#111")
yk.update(tickdef(e_ticks, [f"{v:.1f}" for v in e_ticks], 22, 10, 12))
xa10, ya10 = set_axes(10, (121, 514), (1888, 2281), e_xr, e_yr, xk, yk)
same_x = [x for (yv, xs) in same_rows for x in xs] + [p[0] for p in same_extra]
same_y = [yv for (yv, xs) in same_rows for x in xs] + [p[1] for p in same_extra]
groups_xy = [(same_x, same_y, 0, 9),
             ([p[0] for p in one_uncl_pts], [p[1] for p in one_uncl_pts], 2, 7),
             ([p[0] for p in two_uncl_pts], [p[1] for p in two_uncl_pts], 3, 7),
             ([p[0] for p in diff_pts], [p[1] for p in diff_pts], 1, 7)]
for gx, gy, gi, sz in groups_xy:
    fig.add_trace(go.Scatter(x=gx, y=gy, mode="markers", xaxis=xa10, yaxis=ya10,
                             marker=dict(color=e_colors[gi], size=sz, line=dict(width=0)),
                             hoverinfo="skip", showlegend=False))
txt(33, 2083, "High-pH probability", 26, angle=-90)
txt(317, 2358, "HiRIEF probability", 26)

# marginal densities
fills = ["rgba(255,215,0,0.5)", "rgba(232,38,43,0.4)", "rgba(58,77,160,0.3)", "rgba(77,190,120,0.45)"]
xa11, ya11 = set_axes(11, (121, 514), (1737, 1885), e_xr, [0, 335])
xa12, ya12 = set_axes(12, (517, 660), (1888, 2281), [0, 280], e_yr)
for gi, dx_vals, dy_vals in [(3, dens_x_two, dens_y_two), (2, dens_x_one, dens_y_one),
                             (1, dens_x_diff, dens_y_diff), (0, dens_x_same, dens_y_same)]:
    fig.add_trace(go.Scatter(x=dens_x_grid, y=dx_vals, mode="lines", fill="tozeroy", fillcolor=fills[gi],
                             line=dict(color=e_colors[gi], width=1.8, shape="spline"),
                             xaxis=xa11, yaxis=ya11, hoverinfo="skip", showlegend=False))
    fig.add_trace(go.Scatter(x=dy_vals, y=dens_y_grid, mode="lines", fill="tozerox", fillcolor=fills[gi],
                             line=dict(color=e_colors[gi], width=1.8, shape="spline"),
                             xaxis=xa12, yaxis=ya12, hoverinfo="skip", showlegend=False))
txt(521, 1812, "density", 20, angle=-90)
txt(585, 1879, "Density", 20)
txt(555, 1966, "HiRIEF and high-pH", 20, xa="left")
txt(555, 1991, "classifications", 20, xa="left")
for i, g in enumerate(e_groups):
    yc = 2028 + 32.7 * i
    shapes.append(dict(type="circle", xref="paper", yref="paper", x0=X(553), x1=X(579), y0=Y(yc + 13),
                       y1=Y(yc - 13), fillcolor=e_colors[i], line=dict(width=0)))
    txt(593, yc, f"{g} ({fmt(e_group_counts[i])})", 20, xa="left")

# ====================== PANEL f ======================
txt(806, 1720, "f", 28, xa="left", bold=True)
txt(1254, 1715, "Evaluation of HeLa classifications against", 26)
txt(1254, 1748, "consensus localization in SubCellBarCode resource", 26)
txt(1247, 1775, "(neighborhood level)", 20)
txt(978, 1834, "Consensus localization", 20)
txt(978, 1859, "(Orre et al.  <i>Mol.</i> cell 2019)", 20)
txt(1247, 1842, "HeLa cell line", 20)
txt(1247, 1868, "classified", 20)
txt(1247, 1893, "(HiRIEF)", 20)
VF_O = (1110, 2013)
vf_left = (-33.5, 0, 128.5, 129)
vf_right = (33, 0.5, 117, 117.5)
fpx_x, fpx_y = (930, 1290), (1870, 2160)
xa13, ya13 = set_axes(13, fpx_x, fpx_y, [fpx_x[0] - VF_O[0], fpx_x[1] - VF_O[0]],
                      [VF_O[1] - fpx_y[1], VF_O[1] - fpx_y[0]])
poly(*region([vf_left], vf_left[:2]), xa13, ya13, fill="#E6E6E6")
poly(*region([vf_right], vf_right[:2]), xa13, ya13, fill="#E6E6E6")
poly(*region([vf_left, vf_right], (0, 0)), xa13, ya13, fill="#808080")
for e in (vf_left, vf_right):
    poly(*region([e], e[:2]), xa13, ya13, line="#111", lw=2)
txt(986, 2015, fmt(venn_f_counts[0]), 21)
txt(1120, 2015, fmt(venn_f_counts[1]), 21)
txt(1232, 2015, fmt(venn_f_counts[2]), 21)
shapes.append(dict(type="line", xref="paper", yref="paper", x0=X(1130), x1=X(1130), y0=Y(2130), y1=Y(2158),
                   line=dict(color="#888", width=1.6)))
annotations.append(dict(x=X(1287), y=Y(2158), xref="paper", yref="paper", ax=-157, ay=0, showarrow=True,
                        arrowhead=2, arrowsize=1.6, arrowwidth=1.6, arrowcolor="#888", text=""))

xk = frame("#111")
xk.update(showticklabels=True, tickvals=[0, 1], ticktext=f_categories, ticklabelstandoff=12,
          tickfont=dict(size=21, family=FONT, color="#111"))
yk = frame("#111")
yk.update(tickdef(f_ticks, [fmt(v) for v in f_ticks], 20, 9, 8))
xa14, ya14 = set_axes(14, (1425, 1699), (1822, 2239), [-0.602, 1.598], [-54, 7437], xk, yk)
fig.add_trace(go.Bar(x=[0, 1], y=f_values, width=0.9, marker=dict(color=f_colors, line=dict(width=0)),
                     xaxis=xa14, yaxis=ya14, hoverinfo="skip", showlegend=False))
f_total = sum(f_values)
txt(1500, 2030, fmt(f_values[0]), 25)
txt(1500, 2063, f"({round(100 * f_values[0] / f_total)}%)", 25)
txt(1624, 2160, fmt(f_values[1]), 25)
txt(1624, 2193, f"({round(100 * f_values[1] / f_total)}%)", 25)
txt(1322, 2030, "Proteins", 20, angle=-90)

# ====================== LAYOUT ======================
fig.update_layout(width=W, height=H, margin=dict(l=0, r=0, t=0, b=0), paper_bgcolor="white",
                  plot_bgcolor="white", barmode="stack", showlegend=False,
                  font=dict(family=FONT, color="#111"), annotations=annotations, shapes=shapes, **axes)
fig.write_html("out.html", config={"displayModeBar": False},
               post_script="document.body.style.margin='0px';document.body.style.padding='0px';")
